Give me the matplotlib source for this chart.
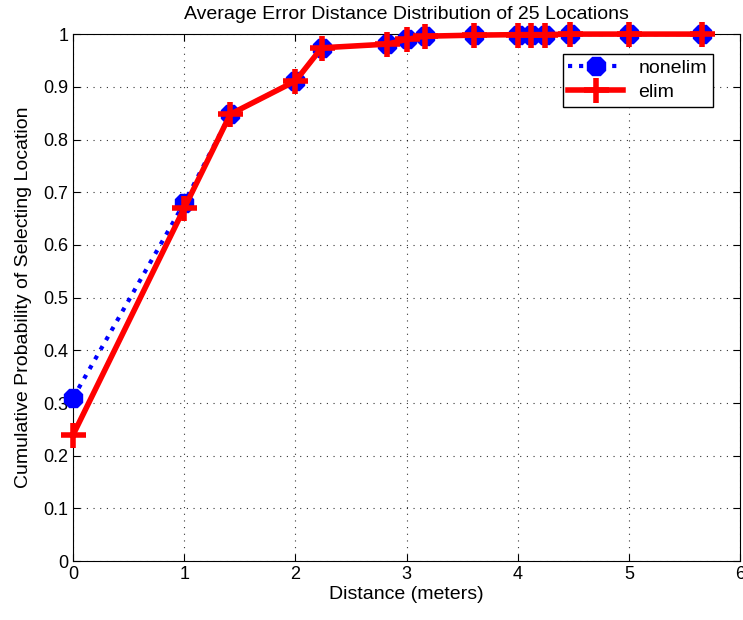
import numpy as np
import matplotlib
matplotlib.use("Agg")
import matplotlib.pyplot as plt

# error distances (m) and cumulative probabilities
distance = [0, 1, 1.414, 2, 2.236, 2.828, 3, 3.162, 3.606, 4, 4.123, 4.243, 4.472, 5, 5.657]
nonelim = [0.31, 0.68, 0.848, 0.911, 0.974, 0.981, 0.99, 0.996, 0.998, 0.999, 0.999, 0.999, 1.0, 1.0, 1.0]
elim = [0.24, 0.67, 0.848, 0.911, 0.974, 0.981, 0.99, 0.996, 0.998, 0.999, 0.999, 0.999, 1.0, 1.0, 1.0]

plt.rcParams['font.family'] = ['Liberation Sans', 'DejaVu Sans']
plt.rcParams['font.size'] = 13

fig = plt.figure(figsize=(7.43, 6.20), dpi=100)
ax = fig.add_axes([0.0985, 0.095, 0.8975, 0.85])

ax.plot(distance, nonelim, color='blue', linestyle=':', linewidth=3,
        marker='8', markersize=14, label='nonelim', clip_on=False, zorder=3)
ax.plot(distance, elim, color='red', linestyle='-', linewidth=4,
        marker='+', markersize=18, markeredgewidth=4, label='elim', clip_on=False, zorder=4)

ax.set_xlim(0, 6)
ax.set_ylim(0, 1)
ax.set_xticks(np.arange(0, 7, 1))
ax.set_yticks(np.arange(0, 1.01, 0.1))
ax.set_yticklabels(['0', '0.1', '0.2', '0.3', '0.4', '0.5', '0.6', '0.7', '0.8', '0.9', '1'])
ax.tick_params(direction='in', length=5, top=True, right=True, labelsize=13)
ax.grid(True, linestyle=(0, (1, 5)), color='black', linewidth=0.8, alpha=0.8)

ax.set_xlabel('Distance (meters)', fontsize=14, labelpad=2)
ax.set_ylabel('Cumulative Probability of Selecting Location', fontsize=14, labelpad=8)
ax.set_title('Average Error Distance Distribution of 25 Locations', fontsize=14, pad=11)

leg = ax.legend(loc='upper right', bbox_to_anchor=(0.965, 0.97), fancybox=False,
                edgecolor='black', fontsize=14, handlelength=2.8, borderaxespad=0.2,
                framealpha=1, borderpad=0.3, labelspacing=0.3)
leg.get_frame().set_linewidth(1.0)

plt.savefig('out.png', dpi=100)
